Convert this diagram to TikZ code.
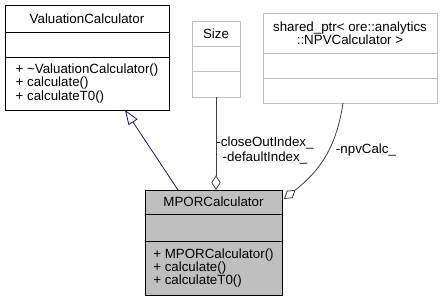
\documentclass[tikz,border=0pt]{standalone}
\usepackage{fontspec}
\setmainfont{Liberation Sans}
\usetikzlibrary{positioning,arrows.meta,calc}

\definecolor{inhblue}{HTML}{191970}
\definecolor{aggrgray}{HTML}{404040}
\definecolor{extgray}{HTML}{BFBFBF}

\begin{document}
\begin{tikzpicture}[
			x=0.75pt, y=-0.75pt,
			every node/.style={
					font=\fontsize{10}{10}\selectfont,
					inner sep=0pt,
					outer sep=0pt
				},
			cls/.style={draw=black, fill=white, line width=0.6pt},
			ext/.style={draw=extgray, fill=white, line width=0.6pt},
			cur/.style={draw=black, fill=extgray, line width=0.6pt},
			inherit/.style={draw=inhblue, line width=0.6pt,
					-{Triangle[open, length=11pt, width=8pt, fill=white]}},
			aggr/.style={draw=aggrgray, line width=0.6pt,
					-{Diamond[open, length=11pt, width=7pt, fill=white]}}
		]

		\useasboundingbox (0,0) rectangle (443,301);

		% base class
		\node (vct) [cls, anchor=north west, minimum width=123pt,
			minimum height=20.25pt] at (5,5) {ValuationCalculator};
		\node (vca) [cls, below=0pt of vct, minimum width=123pt,
			minimum height=18.75pt] {};
		\node (vcm) [cls, below=0pt of vca, minimum width=123pt,
			minimum height=39.75pt, align=left]
		{+ \textasciitilde ValuationCalculator()\\+ calculate()\\+ calculateT0()};

		% Size
		\node (sizet) [ext, anchor=north west, minimum width=36pt,
			minimum height=18.75pt] at (192,21) {Size};
		\node (sizea) [ext, below=0pt of sizet, minimum width=36pt,
			minimum height=18.75pt] {};
		\node (sizem) [ext, below=0pt of sizea, minimum width=36pt,
			minimum height=19.5pt] {};

		% shared_ptr
		\node (sharedt) [ext, anchor=north west, minimum width=130.5pt,
			minimum height=30pt, align=center] at (263,13)
		{shared\_ptr< ore::analytics\\::NPVCalculator >};
		\node (shareda) [ext, below=0pt of sharedt, minimum width=130.5pt,
			minimum height=18.75pt] {};
		\node (sharedm) [ext, below=0pt of shareda, minimum width=130.5pt,
			minimum height=18.75pt] {};

		% MPORCalculator
		\node (mport) [cur, anchor=north west, minimum width=102.75pt,
			minimum height=18pt] at (145,190) {MPORCalculator};
		\node (mpora) [cur, below=0pt of mport, minimum width=102.75pt,
			minimum height=20.25pt] {};
		\node (mporm) [cur, below=0pt of mpora, minimum width=102.75pt,
			minimum height=40.5pt, align=left]
		{+ MPORCalculator()\\+ calculate()\\+ calculateT0()};

		\draw[inherit] ($(mport.north west)+(33,0)$) -- ($(vcm.south west)+(120,0)$);

		\draw[aggr] (sizem.south) -- (sizem.south |- mport.north);
		\node (idxlbl) [align=center, font=\fontsize{10}{11.25}\selectfont]
			at (265,150) {-closeOutIndex\_\\-defaultIndex\_};

		\draw[aggr] ($(sharedm.south)+(-7,0)$)
			.. controls (336,150) and (318,172) .. ($(mport.north east)+(2,9)$);
		\node (npvlbl) at (366,150) {-npvCalc\_};

	\end{tikzpicture}
\end{document}
